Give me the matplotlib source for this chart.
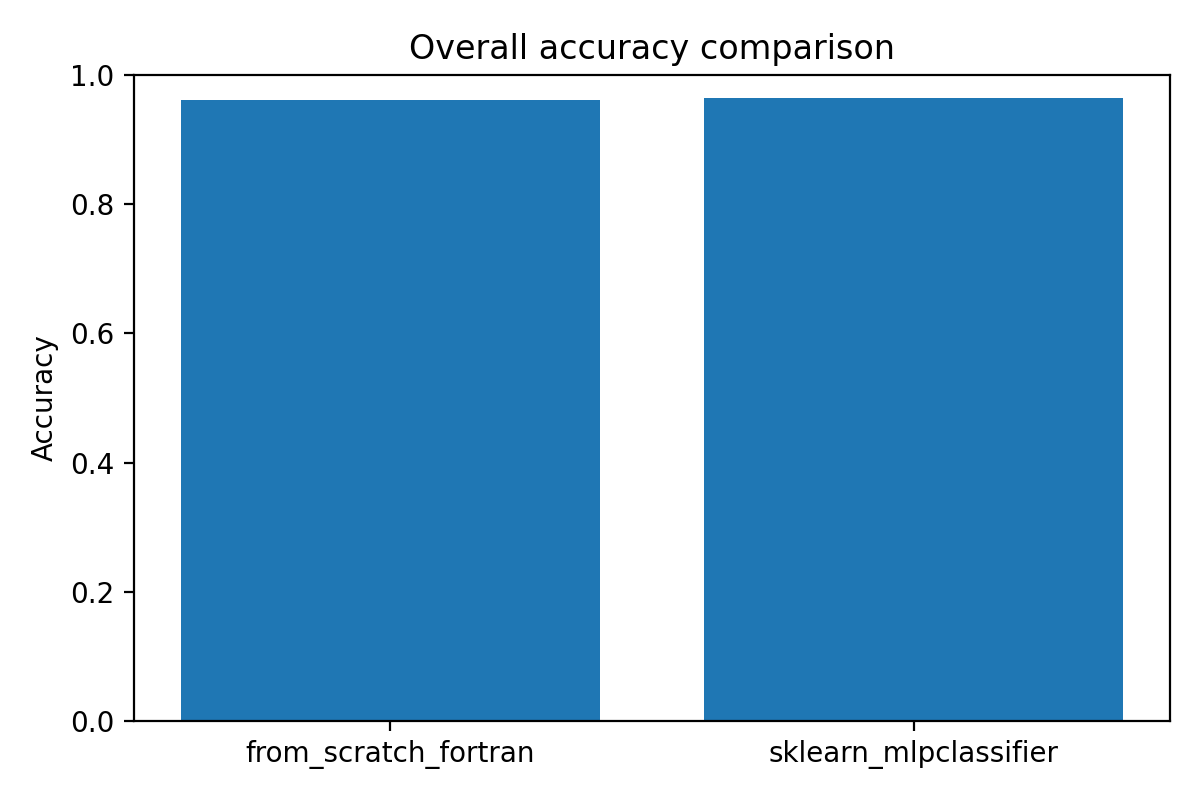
import matplotlib
matplotlib.use("Agg")
import matplotlib.pyplot as plt

# modelos e acurácias
models = ["from_scratch_fortran", "sklearn_mlpclassifier"]
accuracy = [0.961, 0.9645]

fig, ax = plt.subplots(figsize=(6, 4), dpi=200)
ax.bar(models, accuracy)
ax.set_ylim(0, 1)
ax.set_ylabel("Accuracy")
ax.set_title("Overall accuracy comparison")
fig.subplots_adjust(left=0.1117, right=0.975, top=0.906, bottom=0.099)
fig.savefig("out.png")
